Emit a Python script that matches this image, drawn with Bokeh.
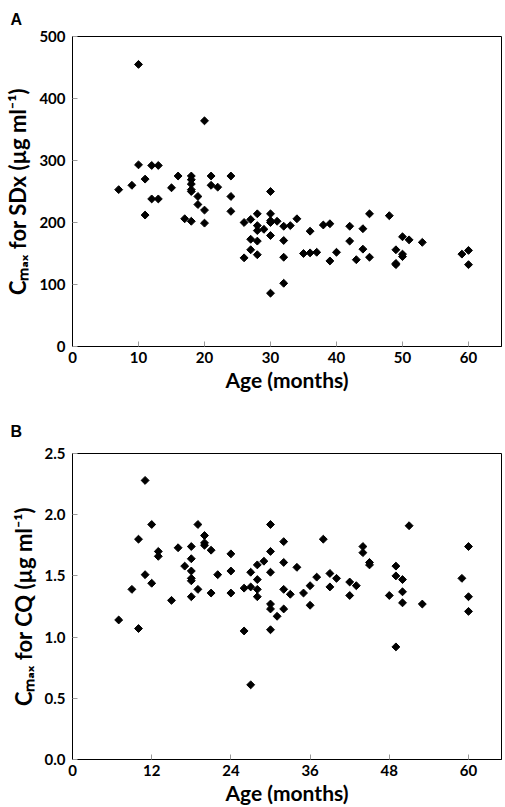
from bokeh.plotting import figure
from bokeh.models import FixedTicker, NumeralTickFormatter
from bokeh.layouts import column
from bokeh.embed import file_html
from bokeh.resources import INLINE

# ---------------- data ----------------
age_a = [7, 9, 10, 10, 11, 11, 12, 12, 13, 13, 15, 16, 17, 18, 18, 18, 18, 18, 18,
         19, 19, 20, 20, 20, 21, 21, 22, 24, 24, 24, 26, 26, 27, 27, 27, 28, 28, 28,
         28, 28, 29, 30, 30, 30, 30, 30, 30, 31, 32, 32, 32, 32, 33, 34, 35, 36, 36,
         37, 38, 39, 39, 40, 42, 42, 43, 44, 44, 45, 45, 48, 49, 49, 49, 50, 50, 50,
         51, 53, 59, 60, 60]
cmax_sdx = [253, 260, 455, 293, 270, 212, 292, 238, 292, 238, 256, 275, 206, 275, 269,
            262, 253, 250, 202, 242, 229, 364, 220, 199, 275, 260, 257, 275, 242, 218,
            200, 143, 205, 173, 156, 214, 195, 187, 170, 148, 189, 250, 214, 203, 200,
            179, 86, 202, 194, 171, 144, 102, 195, 206, 150, 186, 151, 152, 196, 198,
            138, 152, 194, 170, 140, 190, 157, 214, 144, 211, 156, 134, 132, 177, 149,
            145, 172, 168, 149, 155, 132]

age_b = [7, 9, 10, 10, 11, 11, 12, 12, 13, 13, 15, 16, 17, 18, 18, 18, 18, 18, 18,
         19, 19, 20, 20, 20, 21, 21, 22, 24, 24, 24, 26, 26, 27, 27, 27, 28, 28, 28, 28,
         29, 30, 30, 30, 30, 30, 30, 31, 32, 32, 32, 32, 33, 34, 35, 36, 36, 37, 38,
         39, 39, 40, 42, 42, 43, 44, 44, 45, 45, 48, 49, 49, 49, 50, 50, 50, 51, 53,
         59, 60, 60, 60]
cmax_cq = [1.14, 1.39, 1.80, 1.07, 2.28, 1.51, 1.92, 1.44, 1.70, 1.66, 1.30, 1.73, 1.58,
           1.74, 1.64, 1.54, 1.48, 1.46, 1.33, 1.92, 1.39, 1.83, 1.77, 1.75, 1.71, 1.36,
           1.51, 1.68, 1.54, 1.36, 1.40, 1.05, 1.53, 1.41, 0.61, 1.59, 1.47, 1.39, 1.33,
           1.62, 1.92, 1.70, 1.53, 1.27, 1.23, 1.06, 1.17, 1.78, 1.61, 1.39, 1.23, 1.35,
           1.57, 1.36, 1.42, 1.26, 1.49, 1.80, 1.52, 1.41, 1.48, 1.45, 1.34, 1.42, 1.74,
           1.69, 1.61, 1.59, 1.34, 1.58, 1.50, 0.92, 1.47, 1.37, 1.28, 1.91, 1.27, 1.48,
           1.74, 1.33, 1.21]

xticks_a = [0, 10, 20, 30, 40, 50, 60]
yticks_a = [0, 100, 200, 300, 400, 500]
xticks_b = [0, 12, 24, 36, 48, 60]
yticks_b = [0.0, 0.5, 1.0, 1.5, 2.0, 2.5]

x_title = "Age (months)"
y_title_a = "C\u2098\u2090\u2093 for SDx (\u00b5g ml\u207b\u00b9)"
y_title_b = "C\u2098\u2090\u2093 for CQ (\u00b5g ml\u207b\u00b9)"
panel_a = "A"
panel_b = "B"

FONT = "Lato"


def style_axes(p, xt, yt, yfmt, letter):
    p.grid.visible = False
    p.outline_line_color = "black"
    p.outline_line_width = 1
    p.outline_line_alpha = 1
    p.background_fill_color = "white"
    p.border_fill_color = "white"
    for ax in (p.xaxis[0], p.yaxis[0]):
        ax.axis_line_color = "black"
        ax.axis_line_width = 1
        ax.major_tick_in = 5
        ax.major_tick_out = 0
        ax.major_tick_line_color = "#9a9a9a"
        ax.minor_tick_line_color = None
        ax.major_label_text_font = FONT
        ax.major_label_text_font_style = "bold"
        ax.major_label_text_font_size = "15px"
        ax.major_label_text_color = "black"
        ax.axis_label_text_font = FONT
        ax.axis_label_text_font_style = "bold"
        ax.axis_label_text_color = "black"
    p.xaxis[0].axis_label_text_font_size = "21px"
    p.yaxis[0].axis_label_text_font_size = "22px"
    p.xaxis[0].ticker = FixedTicker(ticks=xt)
    p.yaxis[0].ticker = FixedTicker(ticks=yt)
    p.xaxis[0].major_label_standoff = 5
    p.yaxis[0].major_label_standoff = 7
    p.yaxis[0].axis_label_standoff = 5
    if yfmt:
        p.yaxis[0].formatter = NumeralTickFormatter(format=yfmt)
    p.title.text = letter
    p.title.align = "left"
    p.title.text_font = "Liberation Sans"
    p.title.text_font_style = "bold"
    p.title.text_font_size = "16px"
    p.title.text_color = "black"


H1 = 399
H2 = 408

# ---------------- panel A ----------------
p1 = figure(width=505, height=H1, x_range=(0, 65), y_range=(0, 500),
            output_backend="svg", toolbar_location=None,
            min_border_left=72, min_border_right=1, min_border_top=36,
            min_border_bottom=H1 - 346)
style_axes(p1, xticks_a, yticks_a, None, panel_a)
p1.title.offset = -62
p1.title.standoff = 17
p1.xaxis[0].axis_label = x_title
p1.xaxis[0].axis_label_standoff = 1
p1.yaxis[0].axis_label = y_title_a
p1.scatter(age_a, cmax_sdx, marker="square", angle=45, angle_units="deg", size=5.6,
           fill_color="black", line_color="black")

# ---------------- panel B ----------------
p2 = figure(width=505, height=H2, x_range=(0, 65), y_range=(0, 2.5),
            output_backend="svg", toolbar_location=None,
            min_border_left=71, min_border_right=4, min_border_top=453 - H1,
            min_border_bottom=H1 + H2 - 759)
style_axes(p2, xticks_b, yticks_b, "0.0", panel_b)
p2.title.offset = -62
p2.title.standoff = 28
p2.xaxis[0].axis_label = x_title
p2.xaxis[0].axis_label_standoff = 1
p2.yaxis[0].axis_label = y_title_b
p2.scatter(age_b, cmax_cq, marker="square", angle=45, angle_units="deg", size=5.6,
           fill_color="black", line_color="black")

layout = column(p1, p2)
open("out.html", "w").write(file_html(layout, INLINE))
